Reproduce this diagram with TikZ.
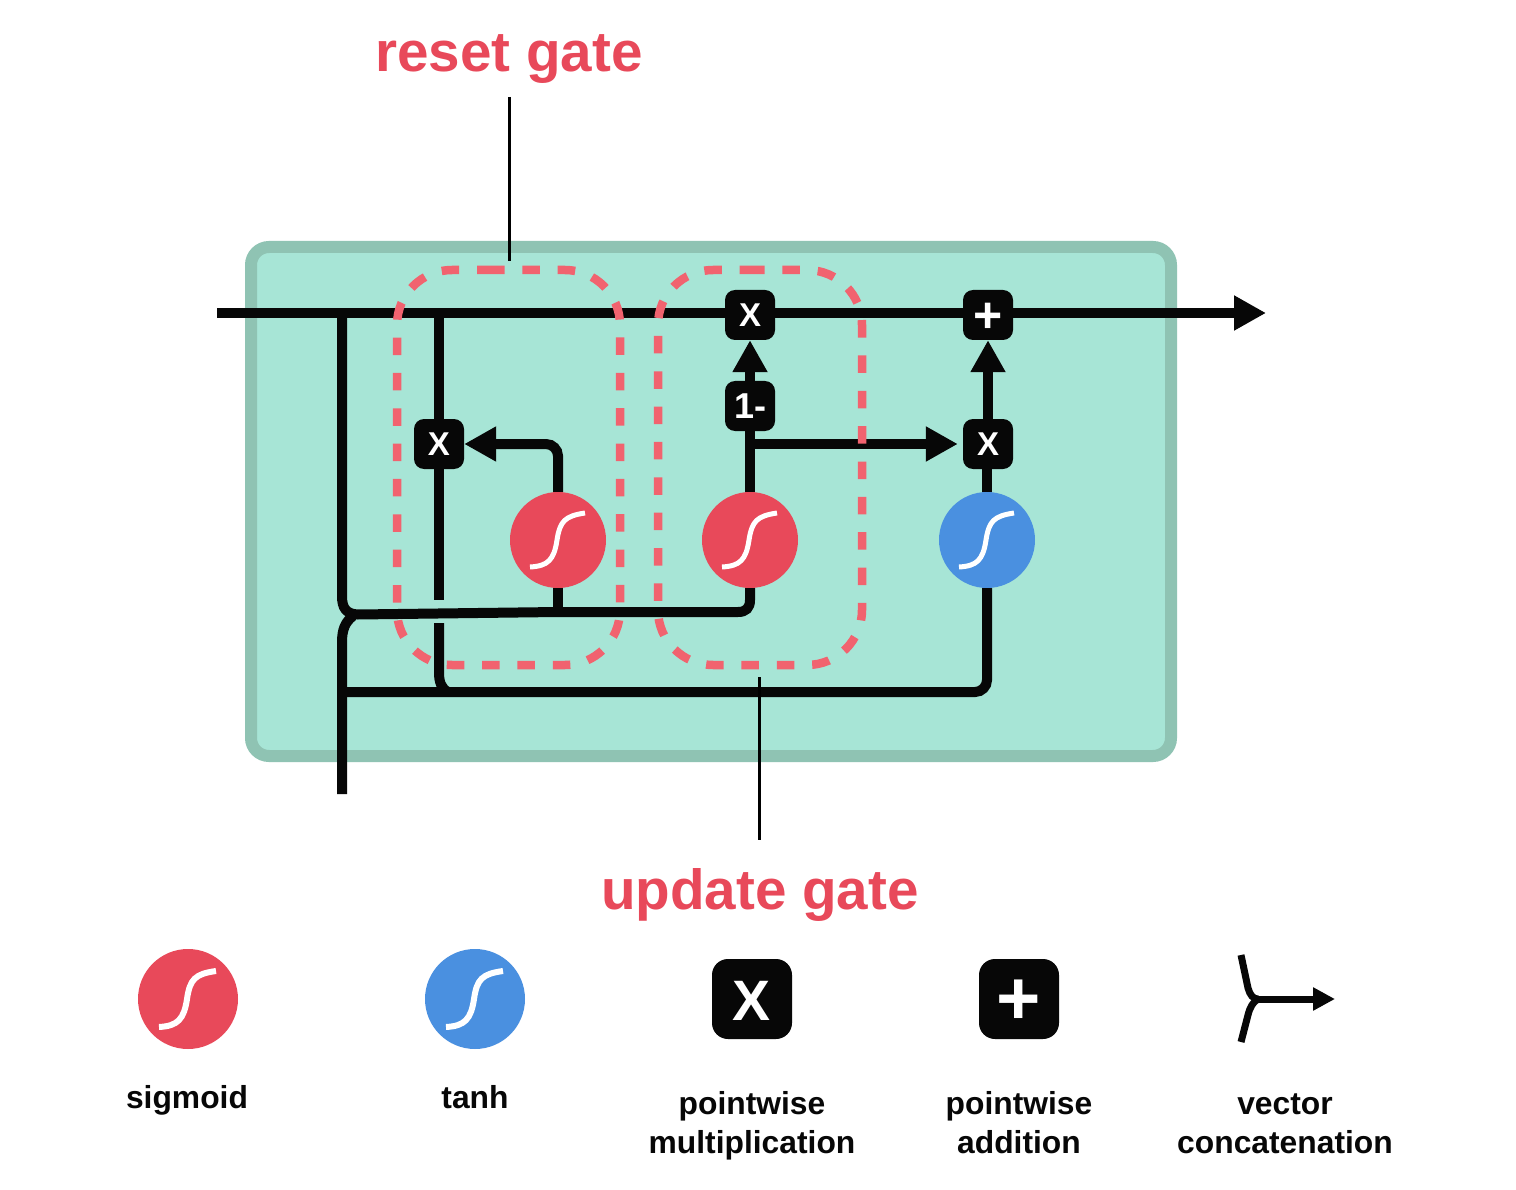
\documentclass[tikz,border=0pt]{standalone}
\usepackage{fontspec}
\setmainfont{Liberation Sans}
\usetikzlibrary{arrows.meta}
\definecolor{boxfill}{HTML}{A7E5D6}
\definecolor{boxedge}{HTML}{8FC3B3}
\definecolor{sigred}{HTML}{E8495A}
\definecolor{tanhblue}{HTML}{4A90E0}
\definecolor{gatedash}{HTML}{F1636F}
\definecolor{ink}{HTML}{070707}
\newcommand{\fsz}[1]{\fontsize{#1}{39}\selectfont\bfseries}
\tikzset{
  wire/.style={draw=ink,line width=10pt},
  bigtip/.style={-{Triangle[length=32pt,width=33pt,color=ink]}},
  smallbox/.style={fill=ink,draw=none,rounded corners=10pt,minimum size=50pt,inner sep=0pt,text=white,font=\fsz{33}},
  bigbox/.style={fill=ink,draw=none,rounded corners=16pt,minimum size=80pt,inner sep=0pt,text=white,font=\fsz{57}},
  disc/.style={circle,draw=none,minimum size=96pt,inner sep=0pt},
  bigdisc/.style={circle,draw=none,minimum size=100pt,inner sep=0pt},
  gate/.style={draw=gatedash,line width=8.5pt,dash pattern=on 17.5pt off 17.86pt},
  gatelabel/.style={text=sigred,font=\fsz{56.6}},
  lead/.style={draw=black,line width=3pt},
  legend/.style={align=center,text=ink,font=\fsz{31.8},inner sep=0pt},
  scurve/.pic={\draw[white,line width=5pt] (-28,27) .. controls (-10,26) and (-4,20) .. (-1,0) .. controls (2,-19) and (7,-24) .. (27,-27);},
  bigscurve/.pic={\draw[white,line width=6pt] (-29,28) .. controls (-10,27) and (-4,20) .. (-1,0) .. controls (2,-20) and (7,-25) .. (28,-28);},
}
\begin{document}
\begin{tikzpicture}[x=1pt,y=-1pt]
\useasboundingbox (0,0) rectangle (1516,1190);
\fill[white] (0,0) rectangle (1516,1190);
% cell
\draw[draw=boxedge,fill=boxfill,line width=12pt,rounded corners=18pt] (251,247) rectangle (1171,756);
% operators
\node[smallbox] (mA) at (439,444) {X};
\node[smallbox] (mB) at (750,315) {X};
\node[smallbox] (pA) at (988,315) {\raisebox{-17.5pt}[0pt][0pt]{\fsz{50}+}};
\node[smallbox] (neg) at (750,406) {\fsz{36}1-};
\node[smallbox] (mC) at (988,444) {X};
\node[disc,fill=sigred] (sA) at (558,540) {};
\node[disc,fill=sigred] (sB) at (750,540) {};
\node[disc,fill=tanhblue] (tA) at (987,540) {};
\pic at (558,540) {scurve};
\pic at (750,540) {scurve};
\pic at (987,540) {scurve};
% named junctions
\coordinate (in) at (217,313);
\coordinate (out) at (1266,313);
\coordinate (jL) at (342,313);
\coordinate (jM) at (439,313);
\coordinate (foot) at (342,794);
\coordinate (lowL) at (342,692);
\coordinate (busA) at (558,612);
\coordinate (forkB) at (750,444);
\coordinate (cutA) at (439,600);
\coordinate (cutB) at (439,623);
% wires
\draw[wire] (in) -- (mB.west |- in);
\draw[wire] (mB.east |- in) -- (pA.west |- in);
\draw[wire,bigtip] (pA.east |- out) -- (out);
\draw[wire] (jL) -- (342,596) .. controls (342,608) and (346,614) .. (358,614.5) -- (busA) -- (738,612) .. controls (746,612) and (750,608) .. (750,600) -- (sB.south);
\draw[wire] (foot) -- (342,642) .. controls (342,630) and (345,622) .. (353,616);
\draw[wire,rounded corners=12pt] (lowL) -- (987,692) -- (tA.south);
\draw[wire] (jM) -- (mA.north);
\draw[wire] (mA.south) -- (cutA);
\draw[wire] (cutB) -- (439,672) .. controls (439,682) and (441,688) .. (448,692);
\draw[wire] (sA.south) -- (busA);
\draw[wire,bigtip,rounded corners=12pt] (sA.north) -- (558,444) -- (mA.east);
\draw[wire] (sB.north) -- (neg.south);
\draw[wire,bigtip] (neg.north) -- (mB.south);
\draw[wire,bigtip,shorten >=5pt] (forkB) -- (mC.west);
\draw[wire] (tA.north) -- (tA.north |- mC.south);
\draw[wire,bigtip] (mC.north) -- (pA.south);
% gates
\draw[gate] (487,270) -- (565,270) arc[start angle=90,end angle=0,radius=55pt] -- (620,610) arc[start angle=0,end angle=-90,radius=55pt] -- (452,665) arc[start angle=-90,end angle=-180,radius=55pt] -- (397,325) arc[start angle=180,end angle=90,radius=55pt] -- cycle;
\draw[gate] (747,270) -- (807,270) arc[start angle=90,end angle=0,radius=55pt] -- (862,610) arc[start angle=0,end angle=-90,radius=55pt] -- (713,665) arc[start angle=-90,end angle=-180,radius=55pt] -- (658,325) arc[start angle=180,end angle=90,radius=55pt] -- cycle;
% gate labels
\node[gatelabel] (resetlabel) at (509,59) {reset gate};
\node[gatelabel] (updatelabel) at (760,895) {update gate};
\coordinate (resetA) at (509,97);
\coordinate (resetB) at (509,261);
\coordinate (updateA) at (759,677);
\coordinate (updateB) at (759,840);
\draw[lead] (resetA) -- (resetB);
\draw[lead] (updateA) -- (updateB);
% legend
\node[bigdisc,fill=sigred] (lgS) at (188,999) {};
\node[bigdisc,fill=tanhblue] (lgT) at (475,999) {};
\pic at (188,999) {bigscurve};
\pic at (475,999) {bigscurve};
\node[bigbox] (lgX) at (752,999) {\raisebox{-21pt}[0pt][0pt]{X}};
\node[bigbox] (lgP) at (1019,999) {\raisebox{-25.5pt}[0pt][0pt]{\fsz{76}+}};
\node[legend,anchor=base] (tS) at (187,1108) {sigmoid};
\node[legend,anchor=base] (tT) at (475,1108) {tanh};
\node[legend] (tX) at (752,1126) {pointwise\\multiplication};
\node[legend] (tP) at (1019,1123) {pointwise\\addition};
\node[legend] (tC) at (1285,1124) {vector\\concatenation};
\coordinate (cTop) at (1241,955);
\coordinate (cBot) at (1241,1042);
\coordinate (cJoin) at (1258,999);
\coordinate (cTip) at (1335,999);
\draw[draw=ink,line width=7pt] (cTop) -- (1248,988) .. controls (1250,995) and (1253,999) .. (cJoin);
\draw[draw=ink,line width=7pt] (cBot) -- (1248,1015) .. controls (1250,1007) and (1253,1002) .. (cJoin);
\draw[draw=ink,line width=7pt,-{Triangle[length=22pt,width=22pt,color=ink]}] (cJoin) -- (cTip);
\end{tikzpicture}
\end{document}
